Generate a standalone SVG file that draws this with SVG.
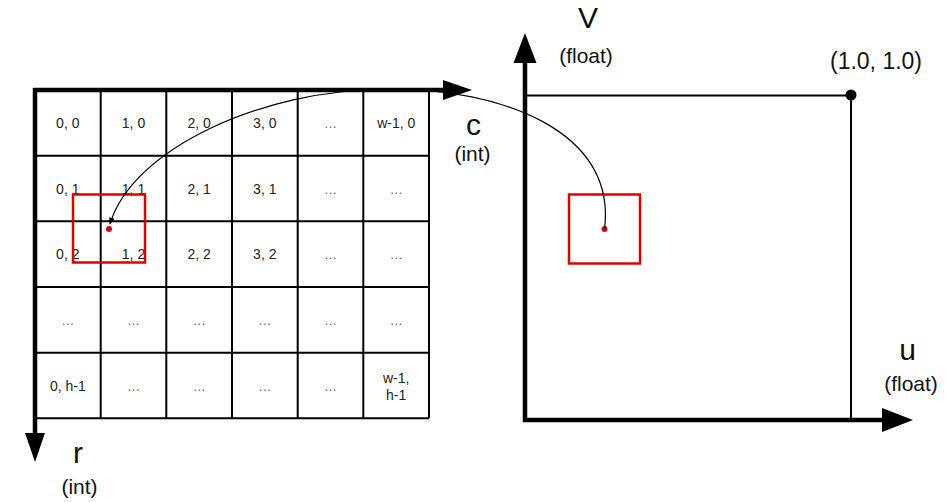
<svg xmlns="http://www.w3.org/2000/svg" width="952" height="502" viewBox="0 0 952 502">
<defs>
<style>
.grid{stroke:#000;stroke-width:2;fill:none}
.axis{stroke:#000;stroke-width:4.5;fill:none}
.head{fill:#000}
.cell{font-family:"Liberation Sans",Arial,sans-serif;font-size:14px;fill:#222;text-anchor:middle}
.dots{font-family:"Liberation Sans",Arial,sans-serif;font-size:13px;fill:#666;text-anchor:middle}
.big{font-family:"Liberation Sans",Arial,sans-serif;font-size:30px;fill:#111;text-anchor:middle}
.sub{font-family:"Liberation Sans",Arial,sans-serif;font-size:21px;fill:#111;text-anchor:middle}
.sel{stroke:#dd0000;stroke-width:2.5;fill:none}
.pt{fill:#dd0000}
.link{stroke:#000;stroke-width:1.2;fill:none}
</style>
<marker id="arr" viewBox="0 0 10 10" refX="9" refY="5" markerWidth="7" markerHeight="7" orient="auto" markerUnits="userSpaceOnUse">
<path d="M0,1 L10,5 L0,9 Z" fill="#000"/>
</marker>
</defs>
<rect width="952" height="502" fill="#fff"/>

<g id="grid">
<path class="grid" d="M35,155.7H429M35,221.3H429M35,287H429M35,352.7H429M35,418.3H429M100.7,90V418.3M166.3,90V418.3M232,90V418.3M297.7,90V418.3M363.3,90V418.3M429,90V418.3"/>
<g id="cells">
<text class="cell" x="67.8" y="127.8">0, 0</text>
<text class="cell" x="133.5" y="127.8">1, 0</text>
<text class="cell" x="199.2" y="127.8">2, 0</text>
<text class="cell" x="264.8" y="127.8">3, 0</text>
<text class="dots" x="330.5" y="127.8">…</text>
<text class="cell" x="396.2" y="127.8">w-1, 0</text>

<text class="cell" x="67.8" y="193.5">0, 1</text>
<text class="cell" x="133.5" y="193.5">1, 1</text>
<text class="cell" x="199.2" y="193.5">2, 1</text>
<text class="cell" x="264.8" y="193.5">3, 1</text>
<text class="dots" x="330.5" y="193.5">…</text>
<text class="dots" x="396.2" y="193.5">…</text>

<text class="cell" x="67.8" y="259.2">0, 2</text>
<text class="cell" x="133.5" y="259.2">1, 2</text>
<text class="cell" x="199.2" y="259.2">2, 2</text>
<text class="cell" x="264.8" y="259.2">3, 2</text>
<text class="dots" x="330.5" y="259.2">…</text>
<text class="dots" x="396.2" y="259.2">…</text>

<text class="dots" x="67.8" y="324.8">…</text>
<text class="dots" x="133.5" y="324.8">…</text>
<text class="dots" x="199.2" y="324.8">…</text>
<text class="dots" x="264.8" y="324.8">…</text>
<text class="dots" x="330.5" y="324.8">…</text>
<text class="dots" x="396.2" y="324.8">…</text>

<text class="cell" x="67.8" y="390.5">0, h-1</text>
<text class="dots" x="133.5" y="390.5">…</text>
<text class="dots" x="199.2" y="390.5">…</text>
<text class="dots" x="264.8" y="390.5">…</text>
<text class="dots" x="330.5" y="390.5">…</text>
<text class="cell" x="396.2" y="383">w-1,</text>
<text class="cell" x="396.2" y="400">h-1</text>
</g>
</g>

<g id="axis-c">
<path class="axis" d="M33,90H446"/>
<path class="head" d="M443,80L472,90L443,100Z"/>
<text class="big" x="473.5" y="135">c</text>
<text class="sub" x="472.5" y="161">(int)</text>
</g>

<g id="axis-r">
<path class="axis" d="M35,88V436"/>
<path class="head" d="M25,433L35,462L45,433Z"/>
<text class="big" x="78" y="463">r</text>
<text class="sub" x="79.5" y="494">(int)</text>
</g>

<g id="uv-square">
<path class="grid" d="M525,95.5H851V420"/>
<circle cx="851" cy="95" r="5.5" fill="#000"/>
<text class="sub" x="876" y="69" style="font-size:23px">(1.0, 1.0)</text>
</g>

<g id="axis-v">
<path class="axis" d="M525,422V60"/>
<path class="head" d="M513.5,63L525,33L536.5,63Z"/>
<text class="big" x="588" y="28">V</text>
<text class="sub" x="586" y="63">(float)</text>
</g>

<g id="axis-u">
<path class="axis" d="M523,420H885"/>
<path class="head" d="M882,408L913,420L882,432Z"/>
<text class="big" x="907.5" y="360">u</text>
<text class="sub" x="911" y="391">(float)</text>
</g>

<g id="pixel-sel">
<rect class="sel" x="73" y="194.5" width="72" height="68"/>
<circle class="pt" cx="109" cy="229" r="3"/>
</g>

<g id="uv-sel">
<rect class="sel" x="569" y="194.5" width="71" height="69"/>
<circle class="pt" cx="604.5" cy="229" r="3"/>
</g>

<g id="connectors">
<path class="link" d="M604.5,229C617,130 500,89 390,89C260,89 132,150 110,224" marker-end="url(#arr)"/>
</g>
</svg>
